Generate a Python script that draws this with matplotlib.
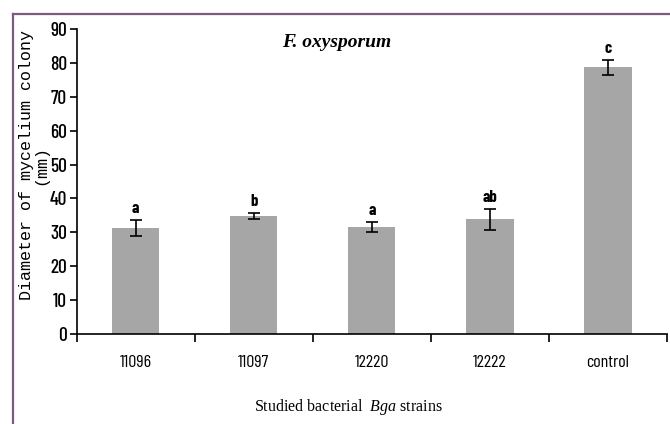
import matplotlib
matplotlib.use("Agg")
import matplotlib.pyplot as plt
from matplotlib.lines import Line2D
from matplotlib import font_manager
import numpy as np

categories = ["11096", "11097", "12220", "12222", "control"]
means = [31.2, 34.8, 31.6, 33.8, 78.7]
errors = [2.4, 0.8, 1.4, 3.0, 2.1]
letters = ["a", "b", "a", "ab", "c"]
yticks = [0, 10, 20, 30, 40, 50, 60, 70, 80, 90]

regular = {f.name for f in font_manager.fontManager.ttflist
           if f.style == "normal" and str(f.weight) in ("400", "normal", "regular")}
bolds = {f.name for f in font_manager.fontManager.ttflist
         if f.style == "normal" and str(f.weight) in ("700", "bold")}
prefs = ["Barlow Condensed", "Liberation Sans Narrow", "Roboto Condensed", "Open Sans Condensed",
         "Archivo Narrow", "Asap Condensed"]
narrow = next((c for c in prefs if c in regular), "DejaVu Sans")
narrow_b = next((c for c in prefs if c in bolds), narrow)

plt.rcParams['mathtext.fontset'] = 'custom'
plt.rcParams['mathtext.rm'] = 'Liberation Serif'
plt.rcParams['mathtext.it'] = 'Liberation Serif:italic'

fig = plt.figure(figsize=(6.70, 4.24), dpi=100)
ax = fig.add_axes([0.1145, 0.213, 0.881, 0.718])

x = np.arange(len(categories))
ax.bar(x, means, width=0.4, color="#A6A6A6", zorder=2)
ax.errorbar(x, means, yerr=errors, fmt="none", ecolor="black",
            elinewidth=1.2, capsize=4, capthick=1.2, zorder=3)
for xi, m, e, lab in zip(x, means, errors, letters):
    ax.annotate(lab, (xi, m + e), xytext=(0, 3), textcoords="offset points",
                ha="center", va="bottom", fontsize=12, fontweight="bold",
                family=narrow_b)

ax.set_xlim(-0.5, len(categories) - 0.5)
ax.set_ylim(0, 90)
ax.set_yticks(yticks)
ax.set_yticklabels([str(v) for v in yticks], family=narrow, fontsize=14, fontweight="medium")
ax.set_xticks(x)
ax.set_xticklabels(categories, family=narrow, fontsize=13)
ax.set_xticks(np.arange(len(categories) + 1) - 0.5, minor=True)
ax.tick_params(axis="x", which="major", length=0, pad=15)
ax.tick_params(axis="x", which="minor", length=6, width=1.2, direction="out")
ax.tick_params(axis="y", length=5, width=1.2, direction="out", pad=2)
for s in ["top", "right"]:
    ax.spines[s].set_visible(False)
for s in ["left", "bottom"]:
    ax.spines[s].set_linewidth(1.2)

ax.text(0.44, 0.955, "F. oxysporum", transform=ax.transAxes, ha="center", va="center",
        family="Liberation Serif", style="italic", fontweight="bold", fontsize=14)

fig.text(0.05, 0.61, "Diameter of mycelium colony\n(mm)", rotation=90,
         ha="center", va="center", family="Liberation Mono", fontsize=12,
         multialignment="center", linespacing=0.95)

fig.text(0.52, 0.04, r"Studied bacterial  $\mathit{Bga}$ strains", ha="center", va="center",
         family="Liberation Serif", fontsize=11.5)

purple = "#7D5A80"
fig.add_artist(Line2D([0.0194, 1.0], [1 - 14 / 424, 1 - 14 / 424], color=purple, lw=1.6,
                      transform=fig.transFigure))
fig.add_artist(Line2D([0.0194, 0.0194], [0.0, 1 - 14 / 424], color=purple, lw=1.6,
                      transform=fig.transFigure))

fig.savefig("out.png", dpi=100)
